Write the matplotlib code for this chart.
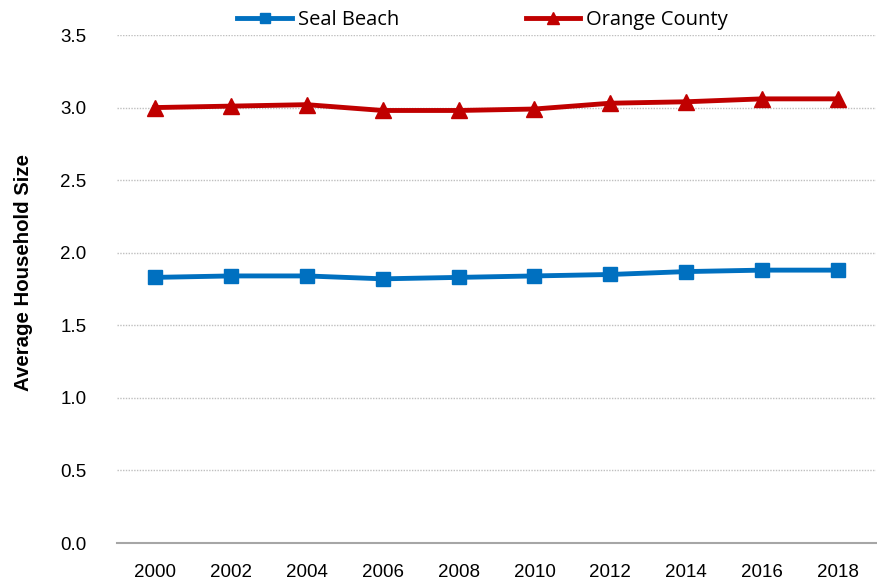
import matplotlib.pyplot as plt

# data
years = ['2000', '2002', '2004', '2006', '2008', '2010', '2012', '2014', '2016', '2018']
seal_beach = [1.83, 1.84, 1.84, 1.82, 1.83, 1.84, 1.85, 1.87, 1.88, 1.88]
orange_county = [3.00, 3.01, 3.02, 2.98, 2.98, 2.99, 3.03, 3.04, 3.06, 3.06]
y_ticks = [0.0, 0.5, 1.0, 1.5, 2.0, 2.5, 3.0, 3.5]

plt.rcParams['font.family'] = 'Liberation Sans'

fig = plt.figure(figsize=(8.78, 5.84), dpi=100)
ax = fig.add_axes([117/878, 1 - 543/584, (876-117)/878, (543-35)/584])

x = range(len(years))
ax.plot(x, seal_beach, color='#0070C0', lw=3.5, marker='s', ms=10, label='Seal Beach')
ax.plot(x, orange_county, color='#C00000', lw=3.5, marker='^', ms=11, label='Orange County')

ax.set_xlim(-0.5, len(years) - 0.5)
ax.set_ylim(0, 3.5)
ax.set_xticks(list(x))
ax.set_xticklabels(years)
ax.set_yticks(y_ticks)
ax.set_yticklabels([f'{v:.1f}' for v in y_ticks])
ax.tick_params(axis='both', length=0, labelsize=13.5)
ax.tick_params(axis='x', pad=15)
ax.tick_params(axis='y', pad=22)

for v in y_ticks[1:]:
    ax.axhline(v, color='#BFBFBF', lw=1, ls=(0, (1, 1)), zorder=0)
for s in ['top', 'right', 'left']:
    ax.spines[s].set_visible(False)
ax.spines['bottom'].set_color('#A6A6A6')
ax.spines['bottom'].set_linewidth(1.5)

ax.set_ylabel('Average Household Size', fontsize=14.7, fontweight='bold')
ax.yaxis.set_label_coords(-0.111, 0.533)

ax.legend(loc='center', bbox_to_anchor=(0.482, 1.03), ncol=2, frameon=False,
          prop={'family': 'Open Sans', 'size': 14.5}, handlelength=2.7, handletextpad=0.3,
          columnspacing=6.3, borderaxespad=0, markerscale=0.75)

fig.savefig('out.png', dpi=100)
